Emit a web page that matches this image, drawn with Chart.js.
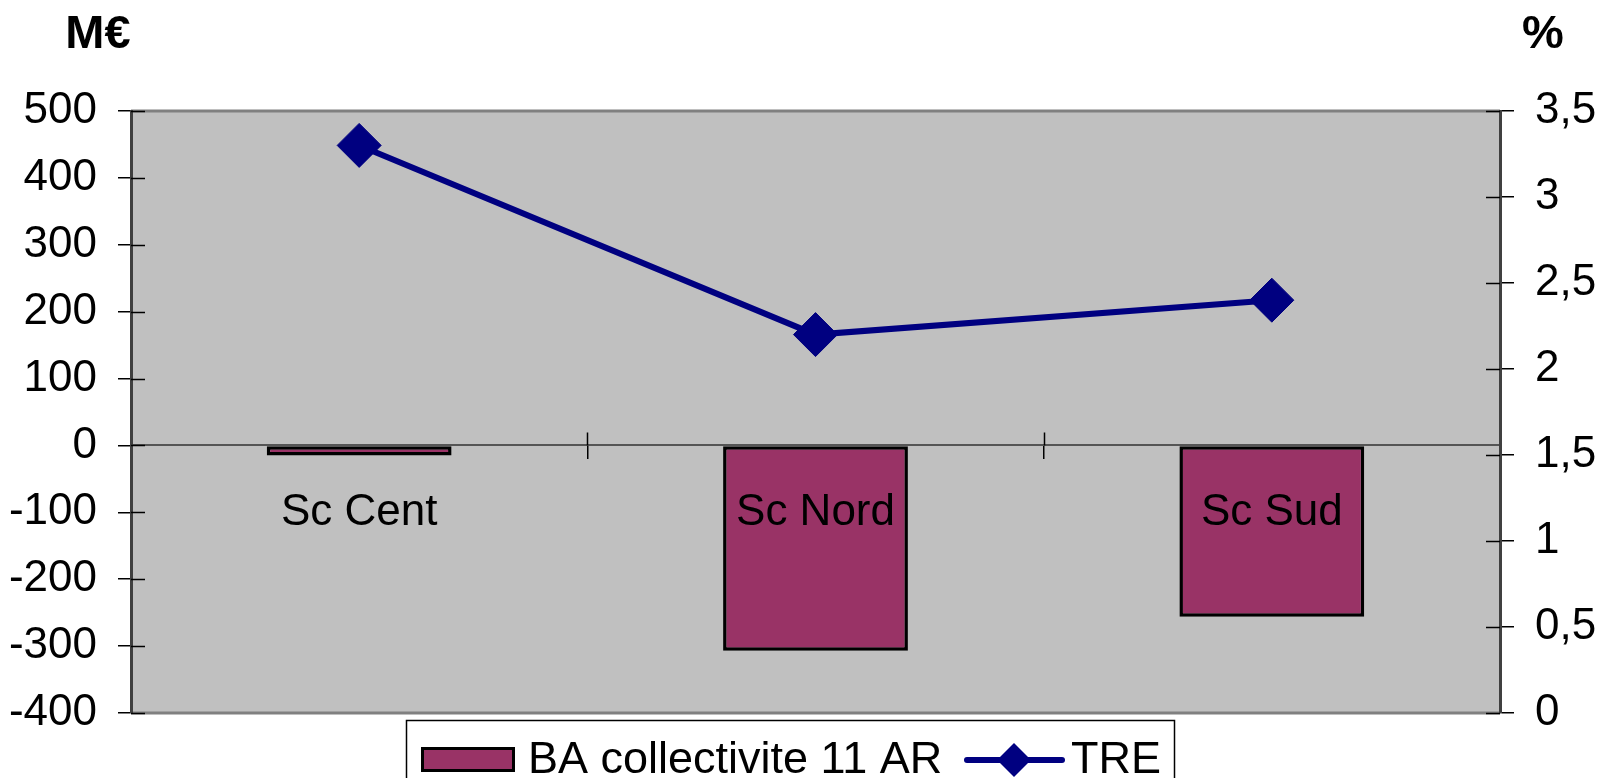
<!DOCTYPE html>
<html>
<head>
<meta charset="utf-8">
<script src="https://cdn.jsdelivr.net/npm/chart.js@4"></script>
<style>
  html, body { margin: 0; padding: 0; background: #fff; }
  #wrap { width: 1601px; height: 778px; }
</style>
</head>
<body>
<div id="wrap"><canvas id="chart" width="1601" height="778"></canvas></div>
<script>
// données
const categories = ['Sc Cent', 'Sc Nord', 'Sc Sud'];
const baValues = [-15, -307, -256];       // M€
const treValues = [3.3, 2.2, 2.4];        // %
const leftTicks = ['-400', '-300', '-200', '-100', '0', '100', '200', '300', '400', '500'];
const rightTicks = ['0', '0,5', '1', '1,5', '2', '2,5', '3', '3,5'];

const FONT = "'Liberation Sans', Arial, sans-serif";
const barColor = '#993366';
const lineColor = '#000080';

// fond gris, cadre, petites graduations vers l'intérieur, titres d'axes, légende
const excelLook = {
  id: 'excelLook',
  beforeDraw(chart) {
    const { ctx, chartArea: a } = chart;
    ctx.save();
    ctx.fillStyle = '#C0C0C0';
    ctx.fillRect(a.left, a.top, a.right - a.left, a.bottom - a.top);
    ctx.strokeStyle = '#808080';
    ctx.lineWidth = 3;
    ctx.beginPath();
    ctx.moveTo(a.left, a.top); ctx.lineTo(a.right, a.top);
    ctx.moveTo(a.left, a.bottom); ctx.lineTo(a.right, a.bottom);
    ctx.stroke();
    ctx.restore();
  },
  afterDraw(chart) {
    const { ctx, chartArea: a, scales } = chart;
    ctx.save();
    // graduations côté intérieur
    ctx.strokeStyle = '#000';
    ctx.lineWidth = 1.5;
    ctx.beginPath();
    scales.y.ticks.forEach((t, i) => {
      const y = Math.round(scales.y.getPixelForTick(i)) + 0.5;
      ctx.moveTo(a.left, y); ctx.lineTo(a.left + 14, y);
    });
    scales.y2.ticks.forEach((t, i) => {
      const y = Math.round(scales.y2.getPixelForTick(i)) + 0.5;
      ctx.moveTo(a.right - 14, y); ctx.lineTo(a.right, y);
    });
    const zero = scales.y.getPixelForValue(0);
    for (let i = 1; i < categories.length; i++) {
      const x = Math.round(a.left + (a.right - a.left) * i / categories.length) + 0.5;
      ctx.moveTo(x, zero - 13); ctx.lineTo(x, zero);
    }
    ctx.stroke();

    // unités
    ctx.fillStyle = '#000';
    ctx.font = 'bold 47px ' + FONT;
    ctx.textAlign = 'center';
    ctx.textBaseline = 'alphabetic';
    ctx.fillText('M€', 98, 48);
    ctx.fillText('%', 1543, 48);

    // légende
    const bar = chart.data.datasets.find(d => d.type === 'bar');
    const line = chart.data.datasets.find(d => d.type === 'line');
    ctx.lineWidth = 1.5;
    ctx.strokeStyle = '#000';
    ctx.fillStyle = '#fff';
    ctx.fillRect(406, 720, 768, 80);
    ctx.strokeRect(406.5, 720.5, 768, 80);

    ctx.fillStyle = bar.backgroundColor;
    ctx.fillRect(421, 747, 94, 25);
    ctx.lineWidth = 3;
    ctx.strokeRect(422.5, 748.5, 91, 22);

    ctx.font = '45px ' + FONT;
    ctx.textAlign = 'left';
    ctx.fillStyle = '#000';
    ctx.fillText(bar.label, 528, 773);

    ctx.strokeStyle = line.borderColor;
    ctx.lineWidth = 6;
    ctx.lineCap = 'round';
    ctx.beginPath();
    ctx.moveTo(967, 760); ctx.lineTo(1062, 760);
    ctx.stroke();
    ctx.fillStyle = line.pointBackgroundColor;
    ctx.beginPath();
    ctx.moveTo(1014, 743); ctx.lineTo(1031, 760); ctx.lineTo(1014, 777); ctx.lineTo(997, 760);
    ctx.closePath();
    ctx.fill();

    ctx.fillStyle = '#000';
    ctx.fillText(line.label, 1071, 773);
    ctx.restore();
  }
};

new Chart(document.getElementById('chart'), {
  data: {
    labels: categories,
    datasets: [
      {
        type: 'line',
        label: 'TRE',
        data: treValues,
        yAxisID: 'y2',
        borderColor: lineColor,
        borderWidth: 6,
        pointStyle: 'rectRot',
        pointRadius: 22,
        pointBackgroundColor: lineColor,
        pointBorderColor: lineColor,
        pointBorderWidth: 1,
        tension: 0,
        order: 0
      },
      {
        type: 'bar',
        label: 'BA collectivite 11 AR',
        data: baValues,
        yAxisID: 'y',
        backgroundColor: barColor,
        borderColor: '#000',
        borderWidth: 3.5,
        borderSkipped: false,
        barPercentage: 0.405,
        categoryPercentage: 1,
        order: 1
      }
    ]
  },
  options: {
    responsive: false,
    animation: false,
    layout: { padding: { top: 111, bottom: 65, left: 0, right: 0 } },
    plugins: {
      legend: { display: false },
      tooltip: { enabled: false }
    },
    scales: {
      x: {
        type: 'category',
        position: { y: 0 },
        offset: true,
        grid: { display: true, drawOnChartArea: false, offset: true, tickLength: 13, color: '#000', lineWidth: 1.5 },
        border: { display: true, color: '#555', width: 2 },
        // z: 1 pour que les libellés passent par-dessus les barres
        ticks: { z: 1, color: '#000', font: { family: FONT, size: 44 }, padding: 28, maxRotation: 0, autoSkip: false }
      },
      y: {
        position: 'left',
        min: -400,
        max: 500,
        afterFit: s => { s.width = 131; },
        grid: { drawOnChartArea: false, tickLength: 13, color: '#000', lineWidth: 1.5 },
        border: { display: true, color: '#404040', width: 3 },
        ticks: {
          stepSize: 100,
          color: '#000',
          padding: 21,
          font: { family: FONT, size: 44 },
          callback: (v, i) => leftTicks[i]
        }
      },
      y2: {
        position: 'right',
        min: 0,
        max: 3.5,
        afterFit: s => { s.width = 101; },
        grid: { drawOnChartArea: false, tickLength: 14, color: '#000', lineWidth: 1.5 },
        border: { display: true, color: '#404040', width: 3 },
        ticks: {
          stepSize: 0.5,
          color: '#000',
          padding: 21,
          font: { family: FONT, size: 44 },
          callback: (v, i) => rightTicks[i]
        }
      }
    }
  },
  plugins: [excelLook]
});
</script>
</body>
</html>
